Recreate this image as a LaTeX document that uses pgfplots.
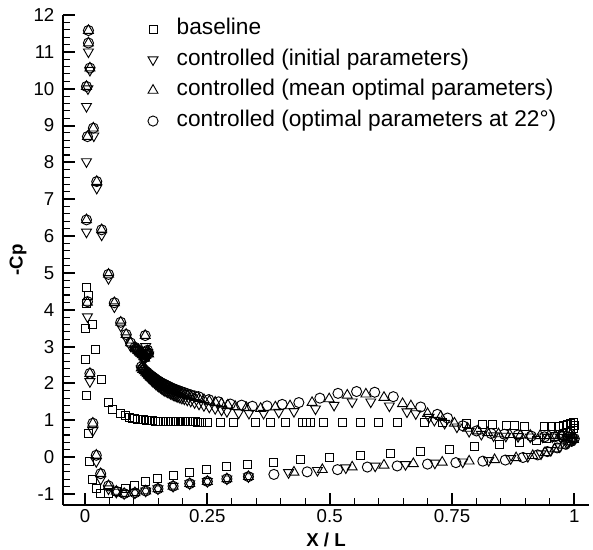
\documentclass[border=0pt]{standalone}
\usepackage{pgfplots}
\pgfplotsset{compat=1.18}
\usepackage{fontspec}
\setmainfont{Liberation Sans}
\begin{document}
\begin{tikzpicture}
\begin{axis}[
  at={(0,0)}, anchor=south west,
  scale only axis, width=394.5pt, height=367.5pt,
  xmin=-0.045, xmax=1.03, ymin=-1.3, ymax=12,
  axis lines=left, axis line style={-, line width=1.5pt},
  tick align=inside,
  xtick={0,0.25,0.5,0.75,1}, xticklabels={0,0.25,0.5,0.75,1},
  ytick={-1,0,...,12}, yticklabels={-1,0,1,2,3,4,5,6,7,8,9,10,11,12},
  minor x tick num=4, minor y tick num=4,
  major tick length=9pt, minor tick length=5pt,
  major tick style={line width=1.5pt, black},
  minor tick style={line width=0.8pt, black},
  tick label style={font=\fontsize{14}{16}\selectfont},
  yticklabel style={xshift=-3pt},
  xlabel={X / L}, ylabel={-Cp},
  xlabel style={at={(axis description cs:0.5,-0.0714)}, anchor=center, font=\fontsize{14}{16}\selectfont\bfseries},
  ylabel style={at={(axis description cs:-0.0856,0.5)}, anchor=center, font=\fontsize{14}{16}\selectfont\bfseries},
  clip=false,
  legend style={draw=none, fill=none, at={(axis description cs:0.161,0.995)}, anchor=north west,
    font=\fontsize{17}{20}\selectfont, row sep=6pt, inner sep=0pt,
    nodes={inner sep=0pt, text height=12.5pt, text depth=4.5pt},
    /tikz/every odd column/.append style={column sep=14pt}},
  legend cell align=left,
]
% baseline
\addplot[only marks, mark=square, mark size=3pt, mark options={black, line width=0.7pt}] table {
0.003 4.60
0.008 4.38
0.002 4.18
0.000 3.50
0.016 3.60
0.000 2.66
0.022 2.93
0.034 2.12
0.003 1.66
0.047 1.49
0.057 1.28
0.072 1.19
0.082 1.12
0.090 1.08
0.096 1.06
0.102 1.04
0.108 1.03
0.114 1.02
0.120 1.01
0.126 1.00
0.132 0.99
0.138 0.99
0.144 0.98
0.150 0.98
0.155 0.98
0.160 0.97
0.165 0.97
0.170 0.97
0.175 0.97
0.180 0.97
0.185 0.96
0.190 0.96
0.195 0.96
0.200 0.96
0.205 0.96
0.210 0.96
0.215 0.96
0.220 0.96
0.225 0.96
0.230 0.95
0.237 0.95
0.250 0.95
0.277 0.95
0.304 0.95
0.348 0.95
0.379 0.95
0.410 0.95
0.444 0.95
0.452 0.95
0.460 0.95
0.488 0.95
0.526 0.95
0.563 0.95
0.600 0.95
0.639 0.95
0.693 0.94
0.730 0.93
0.780 0.90
0.813 0.89
0.833 0.89
0.861 0.87
0.877 0.87
0.898 0.84
0.940 0.82
0.954 0.82
0.967 0.83
0.978 0.85
0.987 0.88
0.993 0.91
0.998 0.93
1.000 0.85
0.998 0.78
0.993 0.72
0.985 0.66
0.975 0.60
0.960 0.55
0.943 0.51
0.922 0.46
0.887 0.39
0.847 0.33
0.796 0.28
0.745 0.21
0.686 0.15
0.625 0.09
0.562 0.04
0.500 -0.01
0.440 -0.07
0.385 -0.15
0.333 -0.21
0.290 -0.26
0.249 -0.33
0.213 -0.42
0.180 -0.49
0.148 -0.57
0.123 -0.67
0.102 -0.76
0.082 -0.85
0.065 -0.94
0.047 -0.98
0.032 -0.98
0.024 -0.85
0.016 -0.60
0.010 -0.13
0.007 0.64
};
\addlegendentry{baseline}
% controlled initial
\addplot[only marks, mark=triangle, mark size=4.3pt, mark options={black, line width=0.7pt, rotate=180}] table {
0.007 11.00
0.010 10.50
0.006 10.00
0.003 9.52
0.018 8.72
0.003 8.02
0.024 7.30
0.003 6.11
0.034 6.03
0.048 4.85
0.060 4.08
0.073 3.56
0.084 3.24
0.093 3.02
0.102 2.92
0.124 3.00
0.105 2.90
0.108 2.86
0.111 2.83
0.114 2.79
0.117 2.75
0.120 2.70
0.122 2.66
0.124 2.73
0.126 2.80
0.128 2.84
0.130 2.77
0.115 2.40
0.118 2.35
0.121 2.30
0.124 2.25
0.127 2.21
0.130 2.17
0.133 2.13
0.136 2.09
0.139 2.05
0.142 2.02
0.145 1.98
0.148 1.95
0.151 1.92
0.154 1.89
0.157 1.86
0.160 1.83
0.163 1.81
0.166 1.79
0.169 1.77
0.172 1.75
0.175 1.73
0.178 1.71
0.181 1.69
0.184 1.67
0.187 1.66
0.190 1.64
0.194 1.62
0.198 1.60
0.203 1.58
0.209 1.55
0.216 1.52
0.224 1.48
0.233 1.44
0.243 1.40
0.254 1.36
0.266 1.32
0.279 1.28
0.290 1.24
0.314 1.20
0.335 1.19
0.365 1.19
0.396 1.22
0.427 1.24
0.471 1.31
0.509 1.41
0.546 1.50
0.584 1.50
0.622 1.39
0.658 1.23
0.676 1.18
0.703 1.08
0.714 1.00
0.735 0.92
0.760 0.82
0.785 0.70
0.810 0.62
0.835 0.58
0.860 0.57
0.885 0.56
0.910 0.55
0.935 0.55
0.955 0.55
0.972 0.54
0.985 0.52
0.995 0.50
0.005 3.81
0.010 2.05
0.016 0.72
0.023 -0.12
0.032 -0.60
0.048 -0.86
0.064 -0.95
0.080 -0.99
0.102 -0.97
0.124 -0.92
0.149 -0.86
0.180 -0.79
0.214 -0.72
0.250 -0.66
0.290 -0.59
0.334 -0.53
0.416 -0.42
0.475 -0.36
0.533 -0.29
0.593 -0.24
0.655 -0.20
0.715 -0.16
0.772 -0.13
0.825 -0.09
0.870 -0.04
0.905 0.02
0.932 0.09
0.952 0.18
0.970 0.28
0.985 0.37
0.995 0.45
};
\addlegendentry{controlled (initial parameters)}
% controlled mean optimal
\addplot[only marks, mark=triangle, mark size=4.3pt, mark options={black, line width=0.7pt}] table {
0.007 11.58
0.007 11.24
0.010 10.56
0.003 10.06
0.017 8.93
0.005 8.70
0.024 7.48
0.003 6.44
0.034 6.17
0.048 4.96
0.060 4.19
0.073 3.66
0.084 3.33
0.093 3.10
0.102 2.98
0.123 3.30
0.105 2.93
0.108 2.89
0.111 2.86
0.114 2.82
0.117 2.78
0.120 2.72
0.122 2.68
0.124 2.76
0.126 2.84
0.128 2.88
0.130 2.80
0.115 2.42
0.118 2.38
0.121 2.34
0.124 2.30
0.127 2.26
0.130 2.22
0.133 2.18
0.136 2.15
0.139 2.12
0.142 2.09
0.145 2.06
0.148 2.03
0.151 2.01
0.154 1.98
0.157 1.96
0.160 1.94
0.163 1.92
0.166 1.90
0.169 1.88
0.172 1.86
0.175 1.84
0.178 1.82
0.181 1.80
0.184 1.79
0.187 1.77
0.190 1.76
0.194 1.74
0.198 1.72
0.203 1.70
0.209 1.67
0.216 1.65
0.224 1.62
0.233 1.59
0.243 1.56
0.254 1.52
0.266 1.49
0.279 1.45
0.292 1.41
0.307 1.37
0.330 1.34
0.359 1.32
0.389 1.36
0.419 1.39
0.464 1.48
0.499 1.58
0.536 1.68
0.574 1.71
0.611 1.62
0.649 1.45
0.666 1.39
0.700 1.18
0.727 1.10
0.755 0.92
0.782 0.78
0.803 0.71
0.823 0.66
0.845 0.63
0.868 0.61
0.890 0.60
0.910 0.59
0.930 0.58
0.948 0.58
0.962 0.58
0.974 0.59
0.984 0.60
0.992 0.60
0.998 0.58
0.005 4.20
0.010 2.27
0.016 0.92
0.023 0.05
0.032 -0.45
0.048 -0.78
0.064 -0.93
0.080 -0.99
0.102 -0.97
0.124 -0.92
0.149 -0.86
0.180 -0.79
0.214 -0.72
0.250 -0.66
0.290 -0.59
0.334 -0.53
0.427 -0.41
0.485 -0.34
0.546 -0.27
0.611 -0.22
0.671 -0.18
0.730 -0.14
0.785 -0.11
0.837 -0.07
0.881 -0.02
0.915 0.04
0.940 0.12
0.960 0.22
0.977 0.32
0.990 0.41
0.998 0.48
};
\addlegendentry{controlled (mean optimal parameters)}
% controlled optimal at 22
\addplot[only marks, mark=o, mark size=3.8pt, mark options={black, line width=0.7pt}] table {
0.007 11.58
0.007 11.24
0.010 10.56
0.003 10.06
0.017 8.93
0.005 8.70
0.024 7.48
0.003 6.44
0.034 6.17
0.048 4.96
0.060 4.19
0.073 3.66
0.084 3.33
0.093 3.10
0.102 2.98
0.123 3.30
0.105 2.94
0.108 2.90
0.111 2.87
0.114 2.83
0.117 2.79
0.120 2.73
0.122 2.70
0.124 2.78
0.126 2.86
0.128 2.90
0.130 2.82
0.115 2.45
0.118 2.41
0.121 2.37
0.124 2.33
0.127 2.30
0.130 2.26
0.133 2.23
0.136 2.20
0.139 2.17
0.142 2.14
0.145 2.11
0.148 2.08
0.151 2.06
0.154 2.03
0.157 2.01
0.160 1.99
0.163 1.97
0.166 1.95
0.169 1.93
0.172 1.91
0.175 1.89
0.178 1.87
0.181 1.85
0.184 1.84
0.187 1.82
0.190 1.81
0.194 1.79
0.198 1.77
0.203 1.75
0.209 1.72
0.216 1.69
0.224 1.66
0.232 1.64
0.253 1.56
0.273 1.50
0.297 1.44
0.320 1.41
0.342 1.38
0.372 1.39
0.403 1.43
0.437 1.48
0.480 1.60
0.517 1.73
0.555 1.78
0.592 1.76
0.630 1.64
0.686 1.36
0.720 1.16
0.741 1.06
0.772 0.85
0.800 0.71
0.830 0.64
0.857 0.62
0.885 0.60
0.912 0.57
0.939 0.55
0.960 0.55
0.975 0.55
0.988 0.54
0.996 0.52
0.005 4.22
0.010 2.27
0.016 0.92
0.023 0.05
0.032 -0.45
0.048 -0.78
0.064 -0.93
0.080 -0.99
0.102 -0.97
0.124 -0.92
0.149 -0.86
0.180 -0.79
0.214 -0.72
0.250 -0.66
0.290 -0.59
0.334 -0.53
0.386 -0.47
0.454 -0.40
0.516 -0.34
0.577 -0.27
0.638 -0.24
0.700 -0.19
0.758 -0.15
0.813 -0.11
0.859 -0.08
0.895 -0.01
0.925 0.06
0.945 0.15
0.965 0.25
0.982 0.35
0.994 0.43
1.000 0.50
};
\addlegendentry{controlled (optimal parameters at 22°)}
\end{axis}
\pgfresetboundingbox
\path (-47.25pt,-33.75pt) rectangle (397.5pt,378.75pt);
\end{tikzpicture}
\end{document}
